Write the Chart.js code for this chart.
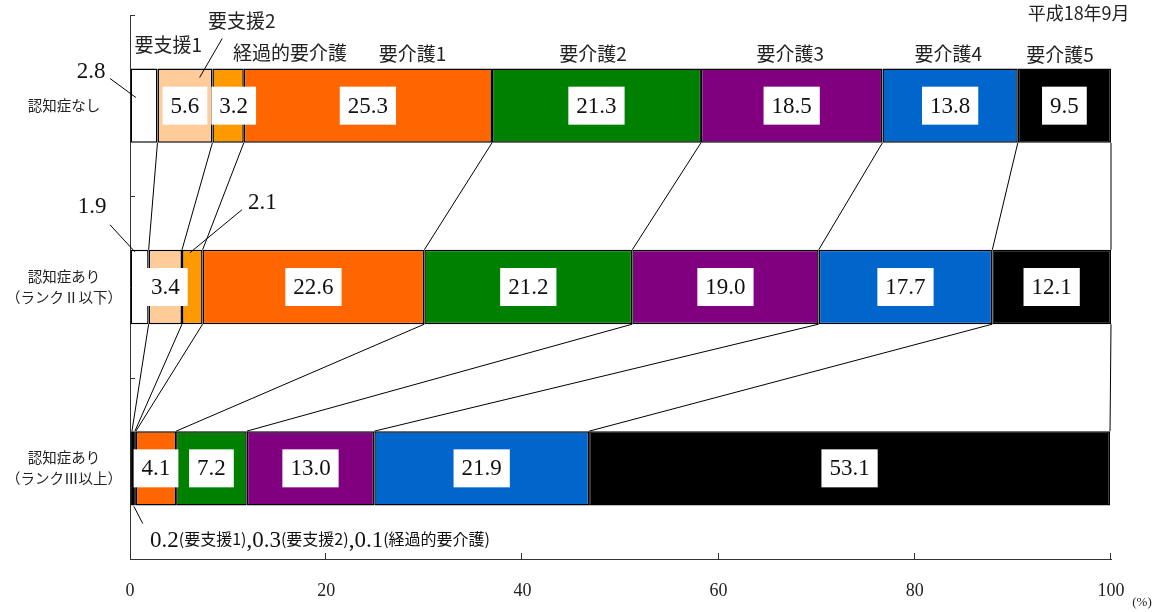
<!DOCTYPE html>
<html><head><meta charset="utf-8">
<script src="https://cdn.jsdelivr.net/npm/chart.js@4/dist/chart.umd.min.js"></script>
<style>html,body{margin:0;padding:0;background:#fff}#wrap{width:1160px;height:612px}</style>
</head><body><div id="wrap"><canvas id="c" width="1160" height="612"></canvas></div>
<script>
const categories = [['認知症なし'], ['認知症あり', '（ランクⅡ以下）'], ['認知症あり', '（ランクⅢ以上）']];
const seriesNames = ['要支援1', '要支援2', '経過的要介護', '要介護1', '要介護2', '要介護3', '要介護4', '要介護5'];
const yoshien1 = [2.8, 1.9, 0.2];
const yoshien2 = [5.6, 3.4, 0.3];
const keikateki = [3.2, 2.1, 0.1];
const kaigo1 = [25.3, 22.6, 4.1];
const kaigo2 = [21.3, 21.2, 7.2];
const kaigo3 = [18.5, 19.0, 13.0];
const kaigo4 = [13.8, 17.7, 21.9];
const kaigo5 = [9.5, 12.1, 53.1];
const xTicks = [0, 20, 40, 60, 80, 100];
const dateLabel = '平成18年9月';
const unitLabel = '(%)';

const seriesValues = [yoshien1, yoshien2, keikateki, kaigo1, kaigo2, kaigo3, kaigo4, kaigo5];
const colors = ['#FFFFFF', '#FFCC99', '#FF9900', '#FF6600', '#008000', '#800080', '#0066CC', '#000000'];

const SERIF = '"Liberation Serif", "DejaVu Serif", serif';
const CJK = '"Noto Sans CJK JP", "Noto Sans", sans-serif';

const overlay = {
  id: 'overlay',
  afterDatasetsDraw(chart) {
    const ctx = chart.ctx;
    const xs = chart.scales.x, ys = chart.scales.y;
    const nRows = categories.length;
    const nSer = seriesValues.length;
    const cum = [];
    for (let r = 0; r < nRows; r++) {
      const arr = [0];
      let s = 0;
      for (let k = 0; k < nSer; k++) { s += seriesValues[k][r]; arr.push(s); }
      cum.push(arr);
    }
    const el0 = chart.getDatasetMeta(0).data;
    const barTop = r => { const p = el0[r].getProps(['y', 'height'], true); return p.y - p.height / 2; };
    const barBot = r => { const p = el0[r].getProps(['y', 'height'], true); return p.y + p.height / 2; };
    const barMid = r => el0[r].getProps(['y'], true).y;

    ctx.save();
    // connector lines between rows
    ctx.strokeStyle = '#000';
    ctx.lineWidth = 1;
    for (let r = 0; r < nRows - 1; r++) {
      for (let k = 1; k <= nSer; k++) {
        ctx.beginPath();
        ctx.moveTo(xs.getPixelForValue(cum[r][k]), barBot(r));
        ctx.lineTo(xs.getPixelForValue(cum[r + 1][k]), barTop(r + 1));
        ctx.stroke();
      }
    }
    // inward tick marks
    ctx.strokeStyle = '#333';
    const band = (ys.bottom - ys.top) / nRows;
    for (let j = 0; j < nRows; j++) {
      const yy = Math.round(ys.top + band * j) + 0.5;
      ctx.beginPath(); ctx.moveTo(xs.left, yy); ctx.lineTo(xs.left + 5, yy); ctx.stroke();
    }
    xTicks.forEach(v => {
      if (v === 0) return;
      const xx = Math.round(xs.getPixelForValue(v)) - 0.5;
      ctx.beginPath(); ctx.moveTo(xx, ys.bottom); ctx.lineTo(xx, ys.bottom - 6); ctx.stroke();
    });

    // value boxes
    ctx.font = '23px ' + SERIF;
    ctx.textAlign = 'center';
    ctx.textBaseline = 'middle';
    for (let r = 0; r < nRows; r++) {
      let prevRight = -Infinity;
      const cy = barMid(r);
      for (let k = 0; k < nSer; k++) {
        const v = seriesValues[k][r];
        if (v < 3) continue;
        const txt = v.toFixed(1);
        const w = ctx.measureText(txt).width + 16;
        const x0 = xs.getPixelForValue(cum[r][k]);
        const x1 = xs.getPixelForValue(cum[r][k + 1]);
        let left = (x0 + x1) / 2 - w / 2;
        if (left < prevRight + 4) left = prevRight + 4;
        ctx.fillStyle = '#fff';
        ctx.fillRect(left, cy - 19, w, 38);
        ctx.fillStyle = '#111';
        ctx.fillText(txt, left + w / 2, cy + 1);
        prevRight = left + w;
      }
    }

    // series header labels above first row
    const headerX = [3.9, 11.4, 16.3, 28.8, 47.2, 67.3, 83.4, 94.8];
    const headerDy = [-24, -48, -16, -15, -15, -15, -15, -14];
    ctx.font = '19px ' + CJK;
    ctx.fillStyle = '#222';
    const t0 = barTop(0);
    seriesNames.forEach((name, i) => {
      ctx.fillText(name, xs.getPixelForValue(headerX[i]), t0 + headerDy[i]);
    });
    const line = (ax, ay, bx, by) => { ctx.beginPath(); ctx.moveTo(ax, ay); ctx.lineTo(bx, by); ctx.stroke(); };
    ctx.strokeStyle = '#000';
    line(xs.getPixelForValue(9.4), t0 - 30, xs.getPixelForValue(7.1), t0 + 9);

    // date label
    ctx.font = '18px ' + CJK;
    ctx.fillText(dateLabel, xs.getPixelForValue(96.7), 13);

    // small-value annotations
    ctx.font = '23px ' + SERIF;
    ctx.fillStyle = '#111';
    ctx.fillText(yoshien1[0].toFixed(1), 91, t0 + 3);
    line(110, t0 + 10, xs.getPixelForValue(0.6), t0 + 29);
    const t1 = barTop(1);
    ctx.fillText(yoshien1[1].toFixed(1), 92, t1 - 43);
    line(110, t1 - 25, xs.getPixelForValue(0.5), t1 + 2);
    ctx.fillText(keikateki[1].toFixed(1), xs.getPixelForValue(13.5), t1 - 47);
    line(xs.getPixelForValue(11.4), t1 - 40, xs.getPixelForValue(6.1), t1 + 3);
    const b2 = barBot(2);
    line(xs.getPixelForValue(0.4), b2 + 1, xs.getPixelForValue(1.3), b2 + 18);
    let cx = 150;
    const by = b2 + 33;
    ctx.textAlign = 'left';
    ctx.textBaseline = 'alphabetic';
    const parts = [
      [yoshien1[2].toFixed(1), 1], ['(' + seriesNames[0] + ')', 0], [',', 1],
      [yoshien2[2].toFixed(1), 1], ['(' + seriesNames[1] + ')', 0], [',', 1],
      [keikateki[2].toFixed(1), 1], ['(' + seriesNames[2] + ')', 0]
    ];
    parts.forEach(([t, big]) => {
      ctx.font = big ? '23px ' + SERIF : '16px ' + CJK;
      ctx.fillText(t, cx, by + (big ? 8 : 6));
      cx += ctx.measureText(t).width;
    });

    ctx.font = '13px ' + SERIF;
    ctx.fillStyle = '#222';
    ctx.textAlign = 'center';
    ctx.textBaseline = 'middle';
    ctx.fillText(unitLabel, xs.getPixelForValue(100) + 31, 603);
    ctx.restore();
  }
};

new Chart(document.getElementById('c'), {
  type: 'bar',
  data: {
    labels: categories,
    datasets: seriesNames.map((name, i) => ({
      label: name,
      data: seriesValues[i],
      backgroundColor: colors[i],
      borderColor: '#000',
      borderWidth: 1.5,
      borderSkipped: false,
      categoryPercentage: 1,
      barPercentage: 0.41
    }))
  },
  options: {
    indexAxis: 'y',
    responsive: false,
    animation: false,
    devicePixelRatio: 1,
    layout: { padding: { left: 0, right: 49, top: 15, bottom: 0 } },
    plugins: { legend: { display: false }, tooltip: { enabled: false } },
    scales: {
      x: {
        type: 'linear', stacked: true, min: 0, max: 100,
        afterBuildTicks: s => { s.ticks = xTicks.map(v => ({ value: v })); },
        grid: { display: true, drawOnChartArea: false, drawTicks: false },
        border: { display: true, color: '#333', width: 1 },
        ticks: { padding: 21, autoSkip: false, maxRotation: 0, color: '#222', font: { family: SERIF, size: 18 } },
        afterFit: s => { s.height = 53; s.paddingLeft = 0; s.paddingRight = 0; }
      },
      y: {
        type: 'category', stacked: true,
        grid: { display: true, drawOnChartArea: false, drawTicks: false },
        border: { display: true, color: '#333', width: 1 },
        ticks: { crossAlign: 'center', padding: 8, color: '#222', font: { family: CJK, size: 14.5, lineHeight: 1.45 } },
        afterFit: s => { s.width = 130; s.paddingTop = 0; s.paddingBottom = 0; }
      }
    }
  },
  plugins: [overlay]
});
</script>
</body></html>
